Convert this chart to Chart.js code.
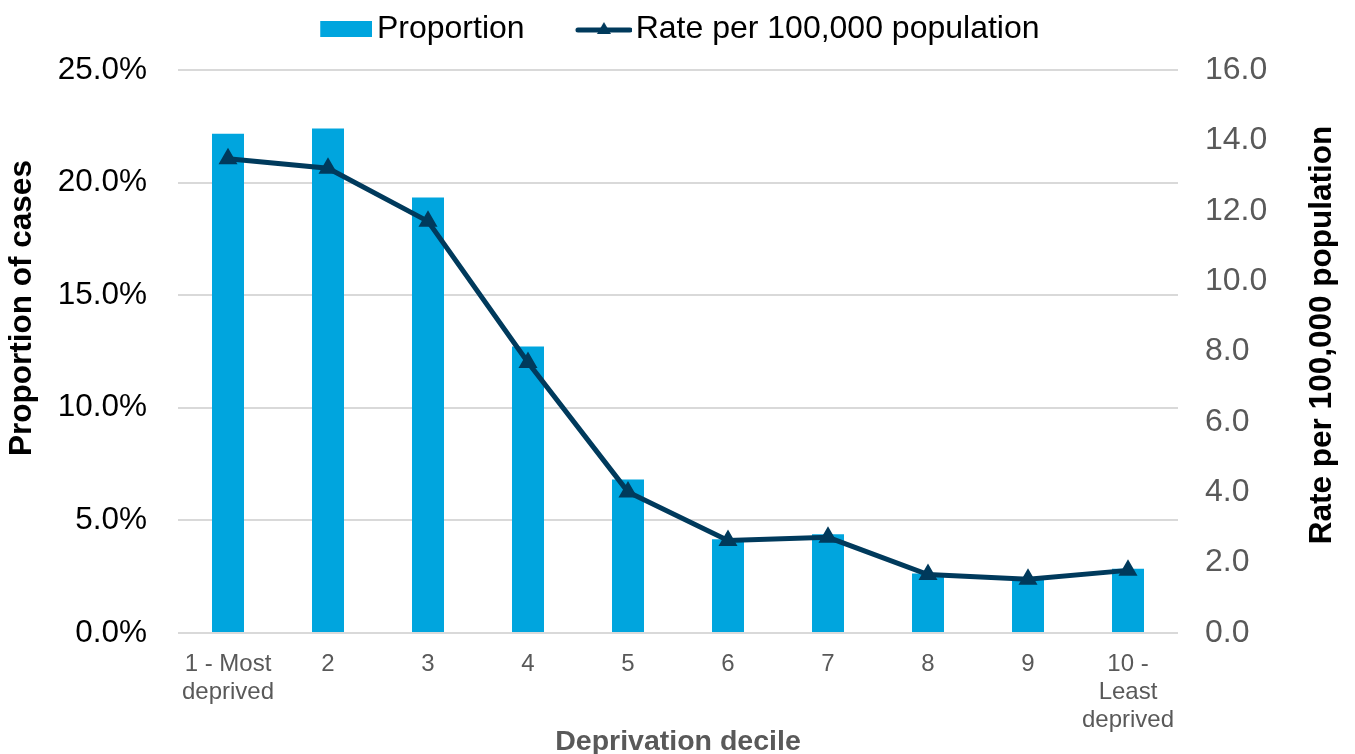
<!DOCTYPE html>
<html>
<head>
<meta charset="utf-8">
<script src="https://cdn.jsdelivr.net/npm/chart.js@4.4.1/dist/chart.umd.min.js"></script>
<style>
  html, body { margin: 0; padding: 0; background: #fff; }
  #wrap { width: 1355px; height: 754px; }
</style>
</head>
<body>
<div id="wrap"><canvas id="chart" width="1355" height="754"></canvas></div>
<script>
// Datos
const deciles = [['1 - Most', 'deprived'], '2', '3', '4', '5', '6', '7', '8', '9', ['10 -', 'Least', 'deprived']];
const proportion = [22.17, 22.40, 19.34, 12.72, 6.82, 4.16, 4.39, 2.64, 2.45, 2.85];
const ratePer100k = [13.48, 13.21, 11.70, 7.69, 4.01, 2.63, 2.72, 1.66, 1.53, 1.78];
const proportionTicks = [0, 5, 10, 15, 20, 25];
const rateTicks = [0, 2, 4, 6, 8, 10, 12, 14, 16];

const barColor = '#00a5de';
const lineColor = '#003a5c';
const grey = '#595959';
const fontFamily = 'Arial, "Liberation Sans", sans-serif';

// Iconos de la leyenda (contenido pegado a la derecha del lienzo)
const barSwatch = (() => {
    const c = document.createElement('canvas');
    c.width = 68; c.height = 16;
    const g = c.getContext('2d');
    g.fillStyle = barColor;
    g.fillRect(16, 0, 52, 16);
    return c;
})();

const lineSwatch = (() => {
    const c = document.createElement('canvas');
    c.width = 70; c.height = 18;
    const g = c.getContext('2d');
    g.strokeStyle = lineColor;
    g.lineWidth = 5;
    g.lineCap = 'round';
    g.beginPath();
    g.moveTo(16, 10); g.lineTo(68, 10);
    g.stroke();
    g.fillStyle = lineColor;
    g.beginPath();
    g.moveTo(42, 2); g.lineTo(49, 14); g.lineTo(35, 14);
    g.closePath();
    g.fill();
    return c;
})();

// Títulos verticales (ambos leídos de abajo hacia arriba)
const sideTitles = {
    id: 'sideTitles',
    afterDraw(chart) {
        const { ctx, chartArea } = chart;
        const items = [
            [chart.scales.y.left + 22, chartArea.top + 238, 'Proportion of cases'],
            [chart.scales.y1.right - 33, chartArea.top + 265, 'Rate per 100,000 population']
        ];
        ctx.save();
        ctx.font = 'bold 31.5px ' + fontFamily;
        ctx.fillStyle = '#000';
        ctx.textAlign = 'center';
        ctx.textBaseline = 'middle';
        items.forEach(([x, y, text]) => {
            ctx.save();
            ctx.translate(x, y);
            ctx.rotate(-Math.PI / 2);
            ctx.fillText(text, 0, 0);
            ctx.restore();
        });
        ctx.restore();
    }
};

const ctx = document.getElementById('chart').getContext('2d');
const chart = new Chart(ctx, {
    type: 'bar',
    data: {
        labels: deciles,
        datasets: [{
            type: 'line',
            label: 'Rate per 100,000 population',
            data: ratePer100k,
            yAxisID: 'y1',
            borderColor: lineColor,
            backgroundColor: lineColor,
            borderWidth: 5,
            pointStyle: 'triangle',
            pointRadius: 9,
            pointBorderWidth: 2,
            pointBackgroundColor: lineColor,
            tension: 0,
            order: 0
        }, {
            type: 'bar',
            label: 'Proportion',
            data: proportion,
            yAxisID: 'y',
            backgroundColor: barColor,
            barPercentage: 0.32,
            categoryPercentage: 1,
            order: 1
        }]
    },
    options: {
        responsive: false,
        animation: false,
        layout: { padding: { top: -1, left: 0, right: 0, bottom: 0 } },
        plugins: {
            tooltip: { enabled: false },
            legend: {
                position: 'top',
                labels: {
                    usePointStyle: true,
                    pointStyleWidth: 45.5,
                    padding: 14,
                    color: grey,
                    font: { size: 32, family: fontFamily },
                    generateLabels: () => [
                        { text: 'Proportion    ', pointStyle: barSwatch, fillStyle: barColor, strokeStyle: barColor, lineWidth: 0, datasetIndex: 1 },
                        { text: 'Rate per 100,000 population', pointStyle: lineSwatch, fillStyle: lineColor, strokeStyle: lineColor, lineWidth: 0, datasetIndex: 0 }
                    ]
                }
            },
            // subtítulo vacío: solo deja espacio entre la leyenda y el gráfico
            subtitle: {
                display: true,
                text: '',
                position: 'top',
                weight: 500,
                font: { size: 1, lineHeight: 1 },
                padding: { top: 14, bottom: 0 }
            }
        },
        scales: {
            x: {
                grid: { display: false },
                border: { display: false },
                ticks: {
                    color: grey,
                    padding: 10,
                    maxRotation: 0,
                    autoSkip: false,
                    font: { size: 24, family: fontFamily, lineHeight: 1.15 }
                },
                title: {
                    display: true,
                    text: 'Deprivation decile',
                    color: grey,
                    padding: { top: 0, bottom: -2 },
                    font: { size: 28.5, weight: 'bold', family: fontFamily, lineHeight: 1 }
                },
                afterFit: (scale) => { scale.height = 121; }
            },
            y: {
                position: 'left',
                min: 0,
                max: 25,
                afterBuildTicks: (scale) => { scale.ticks = proportionTicks.map(v => ({ value: v })); },
                grid: { color: '#d9d9d9', lineWidth: 2, drawTicks: false },
                border: { display: false },
                ticks: {
                    color: '#000',
                    padding: 31,
                    font: { size: 31.5, family: fontFamily },
                    callback: (v) => v.toFixed(1) + '%'
                },
                afterFit: (scale) => { scale.width = 178; }
            },
            y1: {
                position: 'right',
                min: 0,
                max: 16,
                afterBuildTicks: (scale) => { scale.ticks = rateTicks.map(v => ({ value: v })); },
                grid: { display: false, drawTicks: false },
                border: { display: false },
                ticks: {
                    color: grey,
                    padding: 27,
                    font: { size: 32, family: fontFamily },
                    callback: (v) => v.toFixed(1)
                },
                afterFit: (scale) => { scale.width = 177; }
            }
        }
    },
    plugins: [sideTitles]
});
</script>
</body>
</html>
